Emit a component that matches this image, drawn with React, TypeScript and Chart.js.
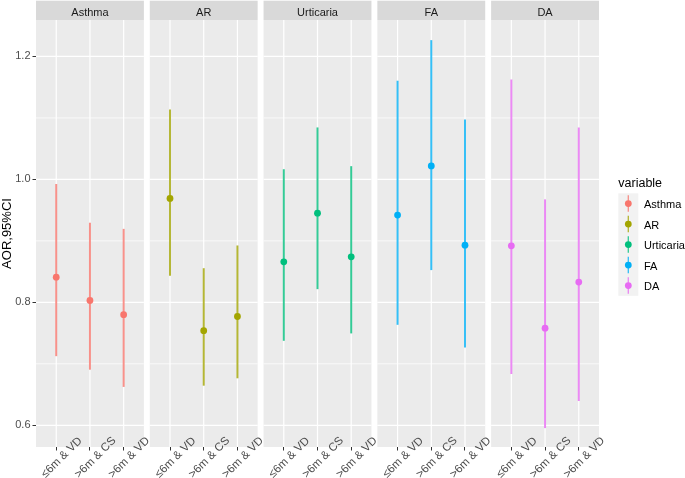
import React, { useEffect, useRef } from 'react';
import { Chart, registerables } from 'chart.js';

Chart.register(...registerables);

// ---------- data ----------
const VARIABLES = ['Asthma', 'AR', 'Urticaria', 'FA', 'DA'];
const GROUPS = ['≤6m & VD', '>6m & CS', '>6m & VD'];
const COLORS = ['#F8766D', '#A3A500', '#00BF7D', '#00B0F6', '#E76BF3'];
const LINE_COLORS = [
  'rgba(248,118,109,0.8)',
  'rgba(163,165,0,0.8)',
  'rgba(0,191,125,0.8)',
  'rgba(0,176,246,0.8)',
  'rgba(231,107,243,0.8)',
];
const Y_TICKS = [0.6, 0.8, 1.0, 1.2];
const Y_MINOR = [0.7, 0.9, 1.1];

const ASTHMA_AOR = [0.841, 0.803, 0.780];
const ASTHMA_LO = [0.713, 0.691, 0.663];
const ASTHMA_HI = [0.992, 0.929, 0.919];

const AR_AOR = [0.969, 0.754, 0.777];
const AR_LO = [0.844, 0.665, 0.677];
const AR_HI = [1.113, 0.855, 0.892];

const URTICARIA_AOR = [0.866, 0.945, 0.874];
const URTICARIA_LO = [0.738, 0.822, 0.750];
const URTICARIA_HI = [1.016, 1.084, 1.021];

const FA_AOR = [0.942, 1.022, 0.893];
const FA_LO = [0.764, 0.853, 0.727];
const FA_HI = [1.160, 1.226, 1.097];

const DA_AOR = [0.892, 0.758, 0.833];
const DA_LO = [0.684, 0.596, 0.640];
const DA_HI = [1.162, 0.967, 1.084];

const AOR = [ASTHMA_AOR, AR_AOR, URTICARIA_AOR, FA_AOR, DA_AOR];
const LO = [ASTHMA_LO, AR_LO, URTICARIA_LO, FA_LO, DA_LO];
const HI = [ASTHMA_HI, AR_HI, URTICARIA_HI, FA_HI, DA_HI];

// ---------- layout (facet geometry in x-scale units) ----------
const EXPAND = 0.6;
const GAP = 0.175;
const SPAN = GROUPS.length - 1 + 2 * EXPAND;
const STEP = SPAN + GAP;
const X_MAX = VARIABLES.length * SPAN + (VARIABLES.length - 1) * GAP;
const Y_MIN = 0.5647;
const Y_MAX = 1.2593;
const FONT = '"Liberation Sans", Arial, sans-serif';

const xOf = (p: number, g: number) => p * STEP + EXPAND + g;
const X_POS: number[] = [];
VARIABLES.forEach((_, p) => GROUPS.forEach((_, g) => X_POS.push(xOf(p, g))));

const facetPlugin = {
  id: 'facet',
  beforeDraw(chart: any) {
    const { ctx, chartArea: a, scales } = chart;
    const x = scales.x;
    const y = scales.y;
    ctx.save();
    ctx.fillStyle = '#FFFFFF';
    ctx.fillRect(0, 0, chart.width, chart.height);
    VARIABLES.forEach((name, p) => {
      const x0 = x.getPixelForValue(p * STEP);
      const x1 = x.getPixelForValue(p * STEP + SPAN);
      ctx.fillStyle = '#EBEBEB';
      ctx.fillRect(x0, a.top, x1 - x0, a.bottom - a.top);
      ctx.strokeStyle = '#FFFFFF';
      ctx.lineWidth = 0.7;
      Y_MINOR.forEach((v) => {
        const py = y.getPixelForValue(v);
        ctx.beginPath();
        ctx.moveTo(x0, py);
        ctx.lineTo(x1, py);
        ctx.stroke();
      });
      ctx.lineWidth = 1.2;
      Y_TICKS.forEach((v) => {
        const py = y.getPixelForValue(v);
        ctx.beginPath();
        ctx.moveTo(x0, py);
        ctx.lineTo(x1, py);
        ctx.stroke();
      });
      GROUPS.forEach((_, g) => {
        const px = x.getPixelForValue(xOf(p, g));
        ctx.beginPath();
        ctx.moveTo(px, a.top);
        ctx.lineTo(px, a.bottom);
        ctx.stroke();
      });
      // strip
      ctx.fillStyle = '#D9D9D9';
      ctx.fillRect(x0, a.top - 19.3, x1 - x0, 19.3);
      ctx.fillStyle = '#1A1A1A';
      ctx.font = `11px ${FONT}`;
      ctx.textAlign = 'center';
      ctx.textBaseline = 'alphabetic';
      ctx.fillText(name, (x0 + x1) / 2, a.top - 3.8);
    });
    ctx.restore();
  },
  afterDraw(chart: any) {
    const { ctx, chartArea: a, scales } = chart;
    const x = scales.x;
    ctx.save();
    // x tick labels, rotated 45°
    ctx.fillStyle = '#4D4D4D';
    ctx.font = `11.5px ${FONT}`;
    ctx.textAlign = 'center';
    ctx.textBaseline = 'top';
    VARIABLES.forEach((_, p) => {
      GROUPS.forEach((label, g) => {
        const px = x.getPixelForValue(xOf(p, g));
        ctx.save();
        ctx.translate(px + 1.5, a.bottom + 6.5);
        ctx.rotate(-Math.PI / 4);
        ctx.fillText(label, 0, 0);
        ctx.restore();
      });
    });
    // legend
    const lx = 618.3;
    const keyTop = 193.3;
    const keyH = 20.5;
    ctx.fillStyle = '#000000';
    ctx.font = `12.5px ${FONT}`;
    ctx.textAlign = 'left';
    ctx.textBaseline = 'alphabetic';
    ctx.fillText('variable', lx, 186.7);
    ctx.fillStyle = '#F2F2F2';
    ctx.fillRect(lx, keyTop, 20, keyH * VARIABLES.length);
    VARIABLES.forEach((name, i) => {
      const cy = keyTop + keyH * (i + 0.5);
      const cx = lx + 10;
      ctx.strokeStyle = LINE_COLORS[i];
      ctx.lineWidth = 1.3;
      ctx.beginPath();
      ctx.moveTo(cx, cy - 8.2);
      ctx.lineTo(cx, cy + 8.2);
      ctx.stroke();
      ctx.fillStyle = COLORS[i];
      ctx.beginPath();
      ctx.arc(cx, cy, 3.4, 0, Math.PI * 2);
      ctx.fill();
      ctx.fillStyle = '#000000';
      ctx.font = `11px ${FONT}`;
      ctx.fillText(name, lx + 25.7, cy + 4.5);
    });
    ctx.restore();
  },
};

export default function App() {
  const canvasRef = useRef<HTMLCanvasElement | null>(null);

  useEffect(() => {
    const canvas = canvasRef.current;
    if (!canvas) return;
    const datasets: any[] = [];
    VARIABLES.forEach((name, p) => {
      datasets.push({
        type: 'scatter',
        label: name,
        data: GROUPS.map((_, g) => ({ x: xOf(p, g), y: AOR[p][g] })),
        backgroundColor: COLORS[p],
        borderColor: COLORS[p],
        borderWidth: 0,
        pointRadius: 3.4,
        pointHoverRadius: 3.4,
        order: 0,
      });
      datasets.push({
        type: 'bar',
        label: name + ' 95%CI',
        data: GROUPS.map((_, g) => ({ x: xOf(p, g), y: [LO[p][g], HI[p][g]] })),
        backgroundColor: LINE_COLORS[p],
        borderWidth: 0,
        barThickness: 1.3,
        grouped: false,
        order: 1,
      });
    });

    const chart = new Chart(canvas, {
      type: 'bar',
      data: { datasets },
      plugins: [facetPlugin],
      options: {
        animation: false,
        responsive: false,
        devicePixelRatio: 1,
        events: [],
        layout: { padding: { top: 20, right: 86, bottom: 0, left: 0 } },
        plugins: {
          legend: { display: false },
          tooltip: { enabled: false },
          title: { display: false },
        },
        scales: {
          x: {
            type: 'linear',
            offset: false,
            min: 0,
            max: X_MAX,
            afterBuildTicks: (s: any) => {
              s.ticks = X_POS.map((v) => ({ value: v }));
            },
            afterFit: (s: any) => {
              s.height = 31;
            },
            ticks: { display: false },
            grid: {
              offset: false,
              drawOnChartArea: false,
              drawTicks: true,
              tickLength: 3.5,
              color: '#333333',
              lineWidth: 1,
            },
            border: { display: false },
          },
          y: {
            type: 'linear',
            min: Y_MIN,
            max: Y_MAX,
            afterBuildTicks: (s: any) => {
              s.ticks = Y_TICKS.map((v) => ({ value: v }));
            },
            afterFit: (s: any) => {
              s.width = 36;
            },
            ticks: {
              color: '#4D4D4D',
              font: { size: 11, family: FONT },
              padding: 2,
              callback: (v: any) => Number(v).toFixed(1),
            },
            grid: {
              drawOnChartArea: false,
              drawTicks: true,
              tickLength: 3.5,
              color: '#333333',
              lineWidth: 1,
            },
            border: { display: false },
            title: {
              display: true,
              text: 'AOR,95%CI',
              color: '#000000',
              font: { size: 13, family: FONT, lineHeight: 1.15 },
              padding: { top: 0, bottom: 0 },
            },
          },
        },
      } as any,
    });
    return () => chart.destroy();
  }, []);

  return (
    <div style={{ position: 'fixed', left: 0, top: 0, width: 685, height: 478, background: '#fff' }}>
      <canvas ref={canvasRef} width={685} height={478} style={{ display: 'block' }} />
    </div>
  );
}
